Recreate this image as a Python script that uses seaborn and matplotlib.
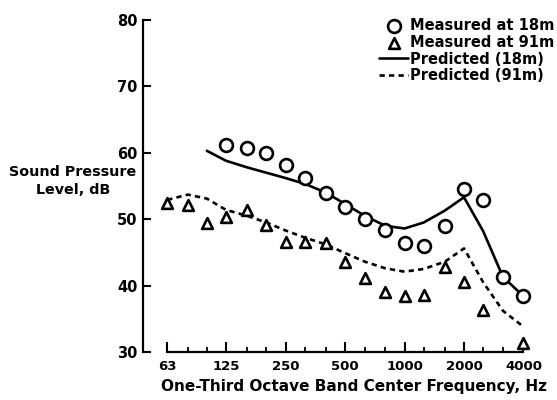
import matplotlib
matplotlib.use("Agg")
import matplotlib.pyplot as plt
import pandas as pd
import seaborn as sns
from matplotlib.ticker import FixedLocator, FixedFormatter, NullFormatter

# Measured one-third octave band levels
freq_18m = [125, 160, 200, 250, 315, 400, 500, 630, 800, 1000, 1250, 1600, 2000, 2500, 3150, 4000]
spl_18m = [61.2, 60.7, 60.0, 58.2, 56.2, 53.9, 51.9, 50.0, 48.3, 46.4, 46.0, 49.0, 54.5, 52.9, 41.3, 38.4]

freq_91m = [63, 80, 100, 125, 160, 200, 250, 315, 400, 500, 630, 800, 1000, 1250, 1600, 2000, 2500, 4000]
spl_91m = [52.4, 52.2, 49.4, 50.3, 51.4, 49.1, 46.6, 46.6, 46.4, 43.6, 41.2, 39.0, 38.4, 38.6, 42.8, 40.6, 36.3, 31.4]

# Predicted spectra
pred_freq_18m = [100, 125, 160, 200, 250, 315, 400, 500, 630, 800, 1000, 1250, 1600, 2000, 2500, 3150, 4000]
pred_spl_18m = [60.3, 58.8, 57.8, 57.0, 56.2, 55.3, 54.0, 52.3, 50.5, 49.0, 48.6, 49.5, 51.3, 53.3, 48.2, 41.3, 38.4]

pred_freq_91m = [63, 80, 100, 125, 160, 200, 250, 315, 400, 500, 630, 800, 1000, 1250, 1600, 2000, 2500, 3150, 4000]
pred_spl_91m = [52.9, 53.7, 53.1, 51.4, 50.5, 49.5, 48.3, 47.2, 46.2, 44.9, 43.6, 42.6, 42.1, 42.5, 43.6, 45.6, 40.5, 36.2, 33.8]

octave_ticks = [63, 125, 250, 500, 1000, 2000, 4000]
octave_labels = ["63", "125", "250", "500", "1000", "2000", "4000"]
third_octave_ticks = [80, 100, 160, 200, 315, 400, 630, 800, 1250, 1600, 2500, 3150]
y_ticks = [30, 40, 50, 60, 70, 80]

sns.set_theme(style="white")
plt.rcParams["font.family"] = ["DejaVu Sans"]
plt.rcParams["font.weight"] = "bold"
plt.rcParams["text.color"] = "black"
plt.rcParams["axes.labelcolor"] = "black"
plt.rcParams["xtick.color"] = "black"
plt.rcParams["ytick.color"] = "black"

fig = plt.figure(figsize=(5.57, 4.00), dpi=100)
ax = fig.add_axes([143 / 557, 1 - 352 / 400, 402 / 557, 332 / 400])

lw = 1.9
sns.lineplot(x=pred_freq_18m, y=pred_spl_18m, ax=ax, color="black", lw=lw,
             label="Predicted (18m)", zorder=2)
sns.lineplot(x=pred_freq_91m, y=pred_spl_91m, ax=ax, color="black", lw=lw,
             linestyle=(0, (2.0, 1.6)), label="Predicted (91m)", zorder=2)
sns.scatterplot(x=freq_18m, y=spl_18m, ax=ax, marker="o", s=85,
                facecolor="white", edgecolor="black", linewidth=1.9,
                label="Measured at 18m", zorder=3)
sns.scatterplot(x=freq_91m, y=spl_91m, ax=ax, marker="^", s=60,
                facecolor="white", edgecolor="black", linewidth=1.9,
                label="Measured at 91m", zorder=3)

ax.set_xscale("log", base=2)
ax.set_xlim(47.5, 5139)
ax.set_ylim(30, 80)

ax.xaxis.set_major_locator(FixedLocator(octave_ticks))
ax.xaxis.set_major_formatter(FixedFormatter(octave_labels))
ax.xaxis.set_minor_locator(FixedLocator(third_octave_ticks))
ax.xaxis.set_minor_formatter(NullFormatter())
ax.yaxis.set_major_locator(FixedLocator(y_ticks))

for s in ["top", "right"]:
    ax.spines[s].set_visible(False)
for s in ["left", "bottom"]:
    ax.spines[s].set_color("black")
    ax.spines[s].set_linewidth(1.6)
ax.spines["bottom"].set_bounds(63, 4000)
ax.spines["left"].set_bounds(30, 80)

ax.tick_params(axis="y", which="major", direction="in", length=6, width=1.5,
               labelsize=10.5, pad=4, colors="black", left=True)
ax.tick_params(axis="x", which="major", direction="in", length=7, width=1.5,
               labelsize=9.5, pad=6, colors="black", bottom=True)
ax.tick_params(axis="x", which="minor", direction="in", length=3.5, width=1.3,
               colors="black", bottom=True)
for lab in ax.get_xticklabels() + ax.get_yticklabels():
    lab.set_fontweight("bold")

ax.set_xlabel("One-Third Octave Band Center Frequency, Hz", fontsize=11,
              fontweight="bold", color="black", va="center")
ax.xaxis.set_label_coords((354 - 143) / 402, (352 - 387) / 332)
ax.set_ylabel("Sound Pressure\nLevel, dB", fontsize=10.3, fontweight="bold",
              rotation=0, ha="center", va="center", color="black",
              linespacing=1.3)
ax.yaxis.set_label_coords((73 - 143) / 402, (352 - 181) / 332)

handles, labels = ax.get_legend_handles_labels()
order = [labels.index(n) for n in
         ["Measured at 18m", "Measured at 91m", "Predicted (18m)", "Predicted (91m)"]]
leg = ax.legend([handles[i] for i in order], [labels[i] for i in order],
                loc="upper right", bbox_to_anchor=(554 / 557, 1 - 18 / 400),
                bbox_transform=fig.transFigure, frameon=False,
                borderaxespad=0, borderpad=0, handlelength=2.0,
                handletextpad=0.1, labelspacing=0.12,
                prop={"size": 10.5, "weight": "bold"})
for t in leg.get_texts():
    t.set_color("black")

fig.savefig("out.png", dpi=100, facecolor="white")
